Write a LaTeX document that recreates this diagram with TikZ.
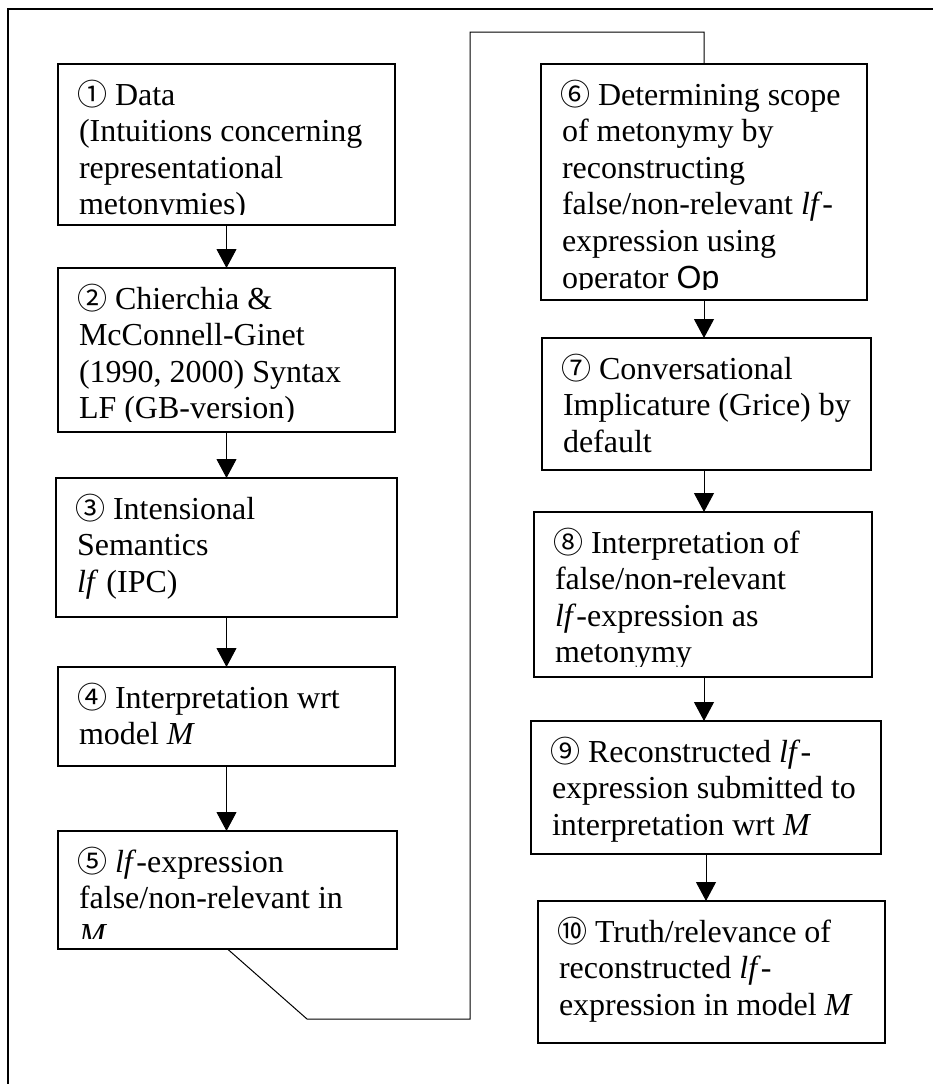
\documentclass[tikz,border=0pt]{standalone}
\usepackage{fontspec}
\setmainfont{Liberation Serif}
\newfontfamily\circfont{Noto Sans CJK JP}
\newfontfamily\opfont{Liberation Sans}
\usetikzlibrary{arrows.meta}
\setlength{\lineskiplimit}{-100pt}
\newcommand\cnum[1]{{\circfont\fontsize{30}{30}\selectfont #1}\relax}
\tikzset{
  steptext/.style={
    draw=none, anchor=north west, inner sep=0pt, outer sep=0pt,
    minimum width=0pt, minimum height=0pt, align=left,
    font=\fontsize{32}{36.6}\selectfont
  },
  stepbox/.style={
    draw, line width=1.3pt, inner sep=0pt, outer sep=0pt, anchor=north west,
    path picture={
      \begin{scope}
        \clip ([shift={(8pt,11pt)}]path picture bounding box.south west)
          rectangle ([shift={(-8pt,-8pt)}]path picture bounding box.north east);
        \node[steptext]
          at ([shift={(19pt,-11pt)}]path picture bounding box.north west)
          {\rule{0pt}{30pt}#1};
      \end{scope}
    }
  },
  flow/.style={line width=1pt, -{Triangle[length=19pt,width=20pt]}},
  link/.style={line width=1pt}
}
\begin{document}
\begin{tikzpicture}[x=1pt,y=-1pt]
\useasboundingbox (0,0) rectangle (933,1084);
\clip (0,0) rectangle (933,1084);
% outer frame
\draw[line width=2pt] (8,9) rectangle (945,1100);

% left column
\node[stepbox={\cnum{①} Data\\\hspace*{2pt}(Intuitions concerning\\\hspace*{2pt}representational\\\hspace*{2pt}metonymies)},
      minimum width=337pt, minimum height=161pt] (b1) at (58,64) {};
\node[stepbox={\cnum{②} Chierchia \&\\\hspace*{2pt}McConnell-Ginet\\\hspace*{2pt}(1990, 2000) Syntax\\\hspace*{2pt}LF (GB-version)},
      minimum width=337pt, minimum height=164pt] (b2) at (58,268) {};
\node[stepbox={\cnum{③} Intensional\\\hspace*{2pt}Semantics\\\hspace*{2pt}\textit{lf} (IPC)},
      minimum width=341pt, minimum height=139pt] (b3) at (56,478) {};
\node[stepbox={\cnum{④} Interpretation wrt\\\hspace*{2pt}model \textit{M}},
      minimum width=337pt, minimum height=99pt] (b4) at (58,667) {};
\node[stepbox={\cnum{⑤} \textit{lf}-expression\\\hspace*{2pt}false/non-relevant in\\\hspace*{2pt}\textit{M}},
      minimum width=339pt, minimum height=118pt] (b5) at (58,831) {};

% right column
\node[stepbox={\cnum{⑥} Determining scope\\\hspace*{2pt}of metonymy by\\\hspace*{2pt}reconstructing\\\hspace*{2pt}false/non-relevant \textit{lf}-\\\hspace*{2pt}expression using\\\hspace*{2pt}operator {\opfont Op}},
      minimum width=326pt, minimum height=236pt] (b6) at (541,64) {};
\node[stepbox={\cnum{⑦} Conversational\\\hspace*{2pt}Implicature (Grice) by\\\hspace*{2pt}default},
      minimum width=329pt, minimum height=132pt] (b7) at (542,338) {};
\node[stepbox={\cnum{⑧} Interpretation of\\\hspace*{2pt}false/non-relevant\\\hspace*{2pt}\textit{lf}-expression as\\\hspace*{2pt}metonymy},
      minimum width=338pt, minimum height=165pt] (b8) at (534,512) {};
\node[stepbox={\cnum{⑨} Reconstructed \textit{lf}-\\\hspace*{2pt}expression submitted to\\\hspace*{2pt}interpretation wrt \textit{M}},
      minimum width=350pt, minimum height=133pt] (b9) at (531,721) {};
\node[stepbox={\cnum{⑩} Truth/relevance of\\\hspace*{2pt}reconstructed \textit{lf}-\\\hspace*{2pt}expression in model \textit{M}},
      minimum width=347pt, minimum height=142pt] (b10) at (538,901) {};

% arrows
\draw[flow] (b1.south) -- (b1.south |- b2.north);
\draw[flow] (b2.south) -- (b2.south |- b3.north);
\draw[flow] (b3.south) -- (b3.south |- b4.north);
\draw[flow] (b4.south) -- (b4.south |- b5.north);
\draw[flow] (b6.south) -- (b6.south |- b7.north);
\draw[flow] (b7.south -| b6.south) -- (b6.south |- b8.north);
\draw[flow] (b8.south -| b6.south) -- (b6.south |- b9.north);
\draw[flow] (b9.south) -- (b9.south |- b10.north);

% link from step 5 over to step 6
\coordinate (k1) at (307,1019);
\coordinate (k2) at (470,1019);
\coordinate (k3) at (470,32);
\draw[link] (b5.south) -- (k1) -- (k2) -- (k3) -- (k3 -| b6.north) -- (b6.north);
\end{tikzpicture}
\end{document}
